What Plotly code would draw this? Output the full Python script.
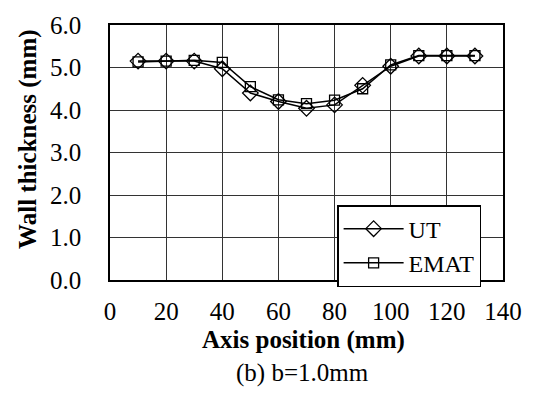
import plotly.graph_objects as go

positions = [10, 20, 30, 40, 50, 60, 70, 80, 90, 100, 110, 120, 130]
ut_values = [5.15, 5.15, 5.15, 4.97, 4.40, 4.20, 4.04, 4.12, 4.58, 5.03, 5.27, 5.27, 5.27]
emat_values = [5.13, 5.15, 5.17, 5.12, 4.55, 4.24, 4.15, 4.23, 4.50, 5.06, 5.28, 5.28, 5.28]
x_ticks = [0, 20, 40, 60, 80, 100, 120, 140]
y_ticks = [0, 1, 2, 3, 4, 5, 6]

font = "Liberation Serif"
W, H = 534, 397
L, R, T, B = 110, 26, 18, 117
plot_left, plot_right = L, W - R
plot_top, plot_bottom = T, H - B

def px_x(px):
    return (px - plot_left) / (plot_right - plot_left)

def px_y(py):
    return (plot_bottom - py) / (plot_bottom - plot_top)

fig = go.Figure()
fig.add_trace(go.Scatter(x=positions, y=ut_values, name="UT", mode="lines+markers",
                         line=dict(color="black", width=1.5),
                         marker=dict(symbol="diamond-open", size=12, color="black", line=dict(width=1.3))))
fig.add_trace(go.Scatter(x=positions, y=emat_values, name="EMAT", mode="lines+markers",
                         line=dict(color="black", width=1.5),
                         marker=dict(symbol="square-open", size=10, color="black", line=dict(width=1.3))))

fig.update_layout(
    width=W, height=H,
    margin=dict(l=L, r=R, t=T, b=B),
    paper_bgcolor="white", plot_bgcolor="white",
    font=dict(family=font, size=24, color="black"),
    showlegend=True,
    legend=dict(x=px_x(340), y=px_y(203), xanchor="left", yanchor="top",
                bgcolor="white", bordercolor="black", borderwidth=1.5,
                font=dict(family=font, size=24, color="black"),
                tracegroupgap=0, itemwidth=60),
    xaxis=dict(range=[0, 140], tickvals=x_ticks, ticktext=[str(v) for v in x_ticks],
               showgrid=True, gridcolor="#333333", gridwidth=1,
               showline=True, linecolor="black", linewidth=1.5, mirror=True,
               ticks="", zeroline=False, tickfont=dict(size=25), ticklabelstandoff=8),
    yaxis=dict(range=[0, 6], tickvals=y_ticks, ticktext=[f"{v:.1f}" for v in y_ticks],
               showgrid=True, gridcolor="#333333", gridwidth=1,
               showline=True, linecolor="black", linewidth=1.5, mirror=True,
               ticks="", zeroline=False, tickfont=dict(size=25), ticklabelstandoff=22),
    annotations=[
        dict(text="<b>Wall thickness (mm)</b>", x=px_x(27), y=px_y(136), xref="paper", yref="paper",
             textangle=-90, showarrow=False, font=dict(size=25), xanchor="center", yanchor="middle"),
        dict(text="<b>Axis position (mm)</b>", x=px_x(306), y=px_y(342), xref="paper", yref="paper",
             showarrow=False, font=dict(size=25), yanchor="middle"),
        dict(text="(b) b=1.0mm", x=px_x(305), y=px_y(376), xref="paper", yref="paper",
             showarrow=False, font=dict(size=25), yanchor="middle"),
    ],
)

fig.write_html("out.html")
